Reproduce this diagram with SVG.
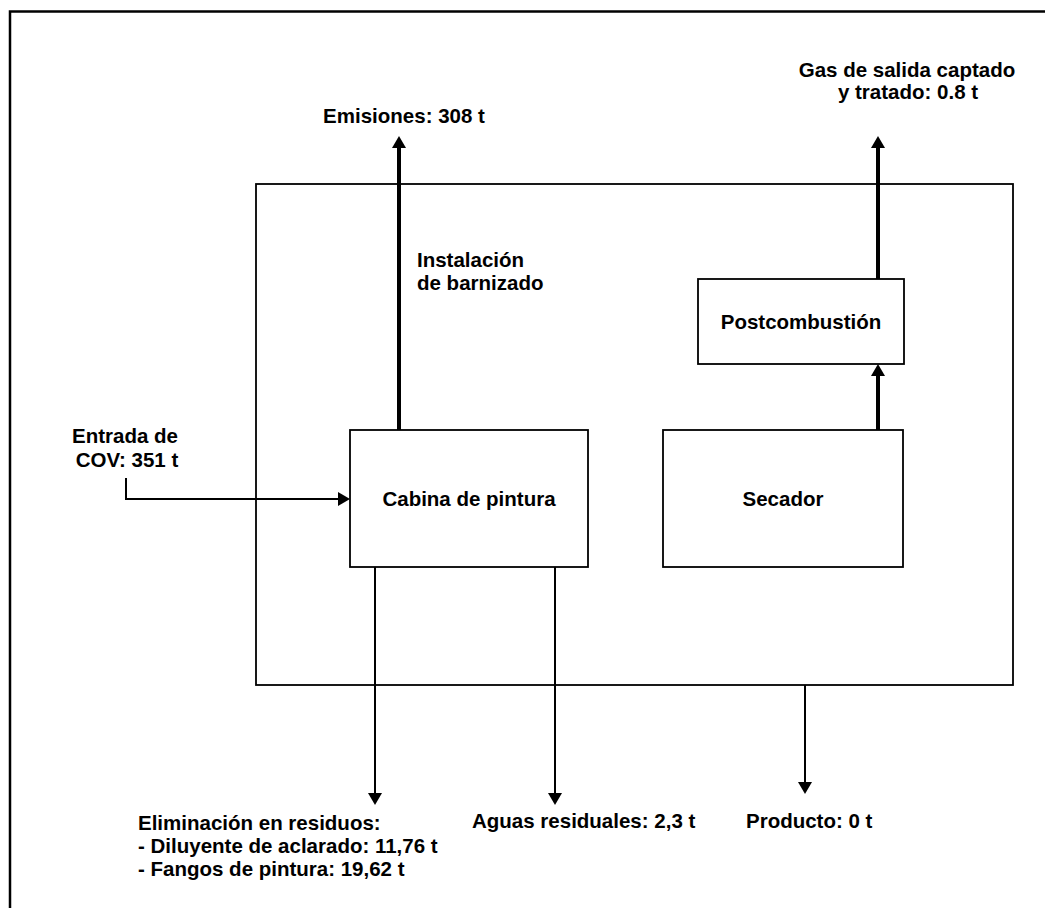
<svg xmlns="http://www.w3.org/2000/svg" width="1045" height="908" viewBox="0 0 1045 908">
  <style>
    .frame { fill: none; stroke: #000; stroke-width: 2.5; }
    .box { fill: #fff; stroke: #000; stroke-width: 1.8; }
    .thick { fill: none; stroke: #000; stroke-width: 4; }
    .thin { fill: none; stroke: #000; stroke-width: 2; }
    text { font-family: "Liberation Sans", Arial, sans-serif; font-weight: bold; font-size: 20.5px; fill: #000; }
    .c { text-anchor: middle; }
  </style>
  <defs>
    <marker id="head" viewBox="0 0 12 14" refX="0" refY="7" markerWidth="12" markerHeight="14" markerUnits="userSpaceOnUse" orient="auto">
      <path d="M0,0 L12,7 L0,14 Z" fill="#000"/>
    </marker>
  </defs>

  <!-- page frame (open at right and bottom) -->
  <path class="frame" d="M10,908 V11.5 H1045"/>

  <!-- plant boundary -->
  <g id="installation">
    <rect class="box" x="256" y="184" width="757" height="501"/>
    <text x="417" y="267">Instalación</text>
    <text x="417" y="290">de barnizado</text>
  </g>

  <g id="cabina">
    <rect class="box" x="350" y="430" width="238" height="137"/>
    <text class="c" x="469" y="506">Cabina de pintura</text>
  </g>

  <g id="secador">
    <rect class="box" x="663" y="430" width="240" height="137"/>
    <text class="c" x="783" y="506">Secador</text>
  </g>

  <g id="postcombustion">
    <rect class="box" x="698" y="279" width="206" height="85"/>
    <text class="c" x="801" y="329">Postcombustión</text>
  </g>

  <!-- flows -->
  <g id="connectors">
    <line class="thick" x1="399" y1="430" x2="399" y2="148" marker-end="url(#head)"/>
    <line class="thick" x1="878" y1="279" x2="878" y2="148" marker-end="url(#head)"/>
    <line class="thick" x1="878" y1="430" x2="878" y2="376" marker-end="url(#head)"/>
    <path class="thin" d="M126,478 V499 H338" marker-end="url(#head)"/>
    <line class="thin" x1="375" y1="567" x2="375" y2="793" marker-end="url(#head)"/>
    <line class="thin" x1="555" y1="567" x2="555" y2="793" marker-end="url(#head)"/>
    <line class="thin" x1="805" y1="685" x2="805" y2="782" marker-end="url(#head)"/>
  </g>

  <!-- flow labels -->
  <g id="label-emisiones">
    <text class="c" x="404" y="123">Emisiones: 308 t</text>
  </g>
  <g id="label-gas">
    <text class="c" x="907" y="77">Gas de salida captado</text>
    <text class="c" x="908" y="99">y tratado: 0.8 t</text>
  </g>
  <g id="label-entrada">
    <text class="c" x="125" y="443">Entrada de</text>
    <text class="c" x="127" y="467">COV: 351 t</text>
  </g>
  <g id="label-residuos">
    <text x="138" y="830">Eliminación en residuos:</text>
    <text x="138" y="853">- Diluyente de aclarado: 11,76 t</text>
    <text x="138" y="876">- Fangos de pintura: 19,62 t</text>
  </g>
  <g id="label-aguas">
    <text x="472" y="828">Aguas residuales: 2,3 t</text>
  </g>
  <g id="label-producto">
    <text x="746" y="828">Producto: 0 t</text>
  </g>
</svg>
